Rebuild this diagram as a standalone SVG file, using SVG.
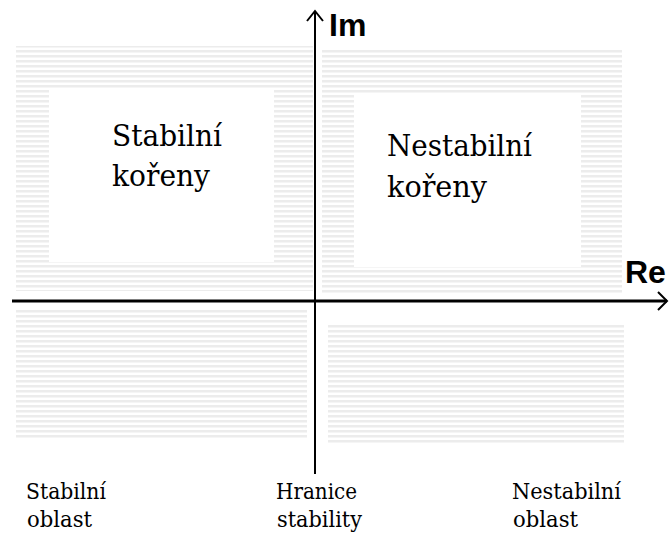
<svg xmlns="http://www.w3.org/2000/svg" width="669" height="533" viewBox="0 0 669 533">
  <style>
    .hatch { fill: url(#hlines); }
    .inner { fill: #ffffff; }
    .serif { font-family: 'DejaVu Serif', serif; fill: #000; }
    .big { font-size: 30px; }
    .small { font-size: 22px; }
    .axislbl { font-family: 'Liberation Sans', Arial, sans-serif; font-weight: bold; font-size: 32px; fill: #000; }
    .axis { stroke: #000; fill: none; stroke-linecap: butt; }
  </style>
  <defs>
    <pattern id="hlines" x="0" y="0" width="10" height="5" patternUnits="userSpaceOnUse">
      <rect x="0" y="0" width="10" height="2.5" fill="#ececec"/>
    </pattern>
  </defs>
  <rect width="669" height="533" fill="#ffffff"/>

  <g id="stable-roots">
    <rect class="hatch" x="16" y="46" width="297" height="245"/>
    <rect class="inner" x="49" y="90" width="225" height="172"/>
    <text class="serif big" x="112" y="146" textLength="110" lengthAdjust="spacingAndGlyphs">Stabilní</text>
    <text class="serif big" x="112" y="186" textLength="98" lengthAdjust="spacingAndGlyphs">kořeny</text>
  </g>

  <g id="unstable-roots">
    <rect class="hatch" x="322" y="50" width="300" height="243"/>
    <rect class="inner" x="354" y="93" width="227" height="174"/>
    <text class="serif big" x="387" y="156" textLength="145" lengthAdjust="spacingAndGlyphs">Nestabilní</text>
    <text class="serif big" x="387" y="197" textLength="100" lengthAdjust="spacingAndGlyphs">kořeny</text>
  </g>

  <g id="stable-region">
    <rect class="hatch" x="16" y="310" width="291" height="130"/>
  </g>

  <g id="unstable-region">
    <rect class="hatch" x="328" y="323" width="296" height="122"/>
  </g>

  <g id="connectors">
    <line class="axis" x1="315" y1="11" x2="315" y2="474" stroke-width="2"/>
    <polyline class="axis" points="307,21 315,11 323,21" stroke-width="2"/>
    <line class="axis" x1="12" y1="301" x2="667" y2="301" stroke-width="3"/>
    <polyline class="axis" points="658,292 667,301 658,310" stroke-width="2"/>
  </g>

  <g id="axis-labels">
    <text class="axislbl" x="329" y="36">Im</text>
    <text class="axislbl" x="625" y="283" font-size="31">Re</text>
  </g>

  <g id="bottom-labels">
    <text class="serif small" x="26" y="499" textLength="80" lengthAdjust="spacingAndGlyphs">Stabilní</text>
    <text class="serif small" x="27" y="527" textLength="65" lengthAdjust="spacingAndGlyphs">oblast</text>
    <text class="serif small" x="276" y="499" textLength="81" lengthAdjust="spacingAndGlyphs">Hranice</text>
    <text class="serif small" x="277" y="527" textLength="85" lengthAdjust="spacingAndGlyphs">stability</text>
    <text class="serif small" x="512" y="499" textLength="109" lengthAdjust="spacingAndGlyphs">Nestabilní</text>
    <text class="serif small" x="513" y="527" textLength="65" lengthAdjust="spacingAndGlyphs">oblast</text>
  </g>
</svg>
